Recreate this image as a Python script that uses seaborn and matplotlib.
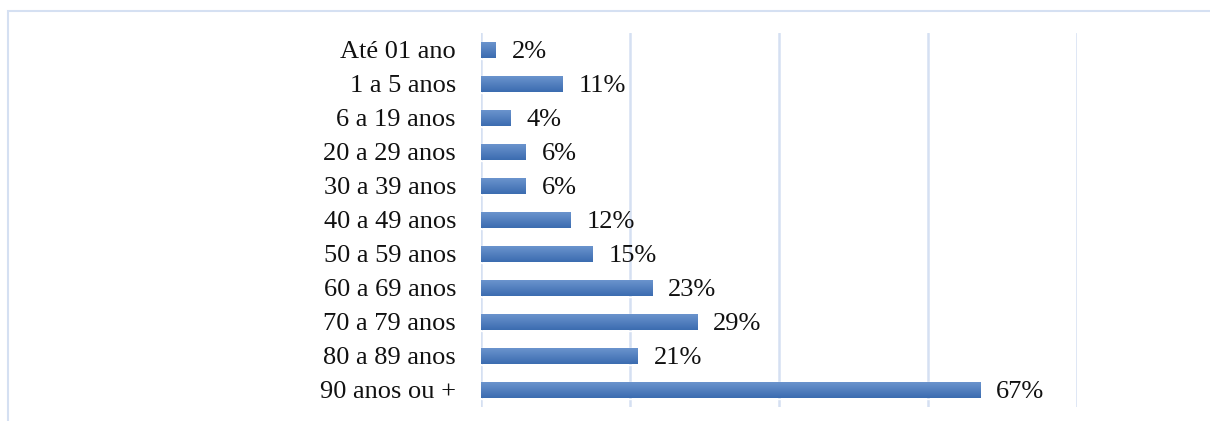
import numpy as np
import pandas as pd
import seaborn as sns
import matplotlib.pyplot as plt
from matplotlib.patches import Rectangle
from matplotlib.colors import LinearSegmentedColormap

faixas = ["Até 01 ano", "1 a 5 anos", "6 a 19 anos", "20 a 29 anos", "30 a 39 anos",
          "40 a 49 anos", "50 a 59 anos", "60 a 69 anos", "70 a 79 anos",
          "80 a 89 anos", "90 anos ou +"]
valores = [2, 11, 4, 6, 6, 12, 15, 23, 29, 21, 67]
rotulos = ["2%", "11%", "4%", "6%", "6%", "12%", "15%", "23%", "29%", "21%", "67%"]

df = pd.DataFrame({"faixa": faixas, "valor": valores})

sns.set_theme(style="white")
plt.rcParams["font.family"] = ["Liberation Serif", "DejaVu Serif"]

grid_col = "#d5e0f2"
fs = 19
fig = plt.figure(figsize=(12.1, 4.21), dpi=100)
ax = fig.add_axes([481 / 1210, 1 - 407 / 421, (1077 - 481) / 1210, 374 / 421])

sns.barplot(data=df, x="valor", y="faixa", orient="h", color="#4a7bbd",
            width=0.5, ax=ax, zorder=3)
ylim = ax.get_ylim()
yt = ax.get_yticks()

# gradiente estilo Excel em cada barra
cmap = LinearSegmentedColormap.from_list("grad", ["#6e96cf", "#3b6cb0"])
grad = np.linspace(0, 1, 64).reshape(-1, 1)
for p in list(ax.patches):
    x0, y0 = p.get_x(), p.get_y()
    w, h = p.get_width(), p.get_height()
    im = ax.imshow(grad, cmap=cmap, aspect="auto", zorder=4,
                   extent=(x0, x0 + w, y0 + h, y0), interpolation="bicubic")
    im.set_clip_path(p)
    p.set_facecolor("none")

ax.set_ylim(ylim)
ax.set_yticks(yt)
ax.set_yticklabels(faixas)

for i, (v, t) in enumerate(zip(valores, rotulos)):
    ax.annotate(t, (v, i), xytext=(11.5, -1.5), textcoords="offset points",
                va="center", ha="left", fontsize=fs, color="#111111")

ax.set_xlim(0, 80)
ax.set_xticks([0, 20, 40, 60, 80])
ax.xaxis.grid(True, color=grid_col, linewidth=1.8)
ax.set_axisbelow(True)
ax.set_xticklabels([])
ax.tick_params(axis="x", length=0)
ax.tick_params(axis="y", length=0, labelsize=fs, pad=18, colors="#111111")
for s in ["top", "right", "bottom", "left"]:
    ax.spines[s].set_visible(False)
ax.set_xlabel("")
ax.set_ylabel("")

# moldura do gráfico
fig.patches.append(Rectangle((7.5 / 1210, -0.1), 1.2, 1 - 10.5 / 421 + 0.1,
                             transform=fig.transFigure, fill=False,
                             edgecolor=grid_col, linewidth=1.5))

fig.savefig("out.png", dpi=100)
